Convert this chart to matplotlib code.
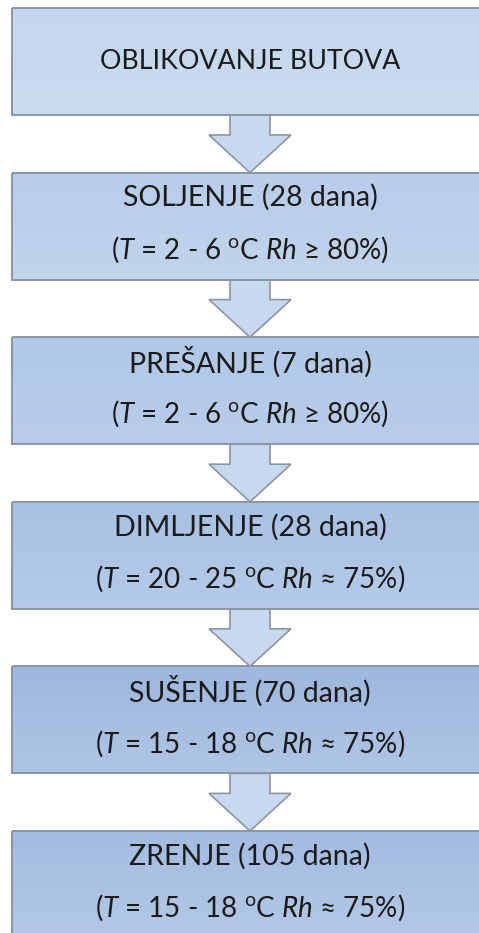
import numpy as np
import matplotlib
matplotlib.use('Agg')
import matplotlib.pyplot as plt
from matplotlib.colors import LinearSegmentedColormap
from matplotlib.patches import Rectangle, Polygon

plt.rcParams['font.family'] = ['Lato', 'DejaVu Sans']
plt.rcParams['mathtext.fontset'] = 'custom'
plt.rcParams['mathtext.rm'] = 'Lato'
plt.rcParams['mathtext.it'] = 'Lato:italic'

# flowchart content
stages = ['OBLIKOVANJE BUTOVA', 'SOLJENJE', 'PREŠANJE', 'DIMLJENJE', 'SUŠENJE', 'ZRENJE']
days = [None, 28, 7, 28, 70, 105]
t_ranges = [None, '2 - 6', '2 - 6', '20 - 25', '15 - 18', '15 - 18']
rh_values = [None, '≥ 80%', '≥ 80%', '≈ 75%', '≈ 75%', '≈ 75%']

# box fill gradients (top, bottom)
box_colors = [('#c5d6ee', '#cbdbf0'), ('#b8cdea', '#c1d4ed'), ('#b0c8e7', '#b9cdea'),
              ('#a8c1e3', '#b4cae8'), ('#9db7dd', '#afc5e5'), ('#a3bce0', '#b3c8e7')]

W, H = 479, 933
fig = plt.figure(figsize=(W / 100, H / 100), dpi=100)
ax = fig.add_axes([0, 0, 1, 1])
ax.set_xlim(0, W)
ax.set_ylim(H, 0)
ax.axis('off')

x0, x1 = 12, 490
cx = 250
top0, pitch, bh = 8, 164.6, 107
edge = '#8b95a3'
txt = '#1b1b1b'

for i, name in enumerate(stages):
    top = top0 + i * pitch
    bot = top + bh
    cmap = LinearSegmentedColormap.from_list('g', box_colors[i])
    grad = np.linspace(0, 1, 64).reshape(-1, 1)
    ax.imshow(grad, cmap=cmap, aspect='auto', extent=(x0, x1, bot, top), zorder=2)
    ax.add_patch(Rectangle((x0, top), x1 - x0, bh, fill=False, ec=edge, lw=1.4, zorder=3))

    if days[i] is None:
        ax.text(cx, top + bh / 2, name, ha='center', va='center', fontsize=19.3,
                color=txt, zorder=4)
    else:
        ax.text(cx, top + 25, f'{name} ({days[i]} dana)', ha='center', va='center',
                fontsize=20.5, color=txt, zorder=4)
        cond = rf'($\it{{T}}$ = {t_ranges[i]} $^{{\rm o}}$C $\it{{Rh}}$ {rh_values[i]})'
        ax.text(cx, top + 77, cond, ha='center', va='center', fontsize=20,
                color=txt, zorder=4)

    # arrow to next box
    if i < len(stages) - 1:
        nxt = top0 + (i + 1) * pitch
        sh = 20
        pts = [(cx - 20, bot), (cx + 20, bot), (cx + 20, bot + sh), (cx + 41, bot + sh),
               (cx, nxt), (cx - 41, bot + sh), (cx - 20, bot + sh)]
        ax.add_patch(Polygon(pts, closed=True, fc='#c8d8ee', ec=edge, lw=1.2, zorder=1))

fig.savefig('out.png', dpi=100)
